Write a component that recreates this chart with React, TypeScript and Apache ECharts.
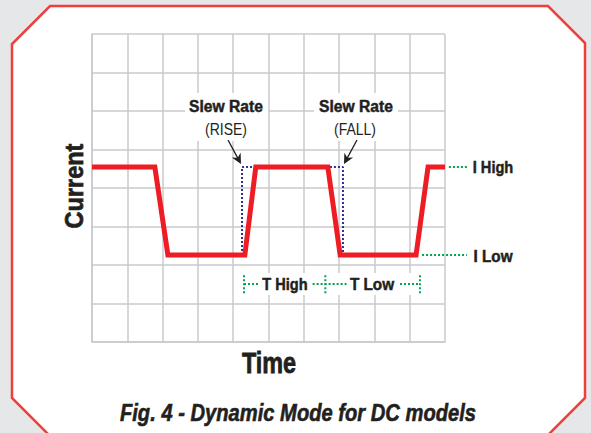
import React, { useEffect, useRef } from "react";
import * as echarts from "echarts";

// ---- data (grid units: 10 time divisions x 8 current divisions) ----
const X_MAX = 10;
const X_MAX_WIDE = 12;
const Y_MAX = 8;
const I_HIGH = 4.545;
const I_LOW = 2.26;
const waveTimes = [0, 1.78, 2.15, 4.33, 4.64, 6.68, 7.03, 9.18, 9.52, 10];
const waveLevels = [I_HIGH, I_HIGH, I_LOW, I_LOW, I_HIGH, I_HIGH, I_LOW, I_LOW, I_HIGH, I_HIGH];
const riseGuide = [[4.25, I_LOW], [4.25, I_HIGH], [4.55, I_HIGH]];
const fallGuide = [[6.74, I_HIGH], [7.11, I_HIGH], [7.11, I_LOW]];
const iHighGuide = [[10.11, I_HIGH], [10.65, I_HIGH]];
const iLowGuide = [[9.35, I_LOW], [10.62, I_LOW]];
const T_ROW = 1.506;
const T_TICK = 0.24;
const periodMarks = [4.306, 6.61, 9.29];
const periodSegs = [[4.306, 4.703], [6.25, 7.21], [8.725, 9.29]];

const TXT = "#231f20";
const FONT = "'Liberation Sans', Arial, sans-serif";
const RED = "#ee1c25";
const GREEN = "#00a651";
const BLUE = "#2e3192";

const GRID_LEFT = 92;
const GRID_TOP = 34;
const GRID_W = 353;
const GRID_H = 308;

function arrow(tail: number[], tip: number[]) {
  const dx = tip[0] - tail[0];
  const dy = tip[1] - tail[1];
  const len = Math.hypot(dx, dy);
  const ux = dx / len, uy = dy / len;
  const px = -uy, py = ux;
  const hl = 10, hw = 5;
  const bx = tip[0] - ux * hl, by = tip[1] - uy * hl;
  const nx = tip[0] - ux * (hl - 3), ny = tip[1] - uy * (hl - 3);
  return [
    {
      type: "line", z: 6,
      shape: { x1: tail[0], y1: tail[1], x2: nx, y2: ny },
      style: { stroke: TXT, lineWidth: 1.3 },
    },
    {
      type: "polygon", z: 6,
      shape: { points: [tip, [bx + px * hw, by + py * hw], [nx, ny], [bx - px * hw, by - py * hw]] },
      style: { fill: TXT },
    },
  ];
}

function txt(text: string, x: number, y: number, font: string, scaleX = 1, rotation = 0, heavy = 0) {
  const style: any = {
    text, font, fill: TXT,
    align: "center", verticalAlign: "middle",
    textAlign: "center", textVerticalAlign: "middle",
  };
  if (heavy > 0) {
    style.stroke = TXT;
    style.lineWidth = heavy;
  }
  return { type: "text", z: 6, x, y, rotation, scaleX, style };
}

function dotted(data: number[][], color: string, axis = 0) {
  return {
    type: "line", data, symbol: "none", z: 3, silent: true,
    xAxisIndex: axis, yAxisIndex: axis,
    lineStyle: { color, width: 2, type: [2, 2] },
  };
}

export default function App() {
  const ref = useRef<HTMLDivElement>(null);
  useEffect(() => {
    if (!ref.current) return;
    const chart = echarts.init(ref.current, null, { renderer: "svg" });
    const grey = "#c9cacc";
    const wave = waveTimes.map((t, i) => [t, waveLevels[i]]);
    const periodSeries: any[] = [];
    periodSegs.forEach((s) => periodSeries.push(dotted([[s[0], T_ROW], [s[1], T_ROW]], GREEN)));
    periodMarks.forEach((m) => periodSeries.push(dotted([[m, T_ROW - T_TICK], [m, T_ROW + T_TICK]], GREEN)));

    const hidden = { show: false };
    chart.setOption({
      animation: false,
      backgroundColor: "#e6e7e8",
      grid: [
        { left: GRID_LEFT, top: GRID_TOP, width: GRID_W, height: GRID_H, show: false },
        { left: GRID_LEFT, top: GRID_TOP, width: (GRID_W * X_MAX_WIDE) / X_MAX, height: GRID_H, show: false },
      ],
      xAxis: [
        {
          type: "value", min: 0, max: X_MAX, interval: 1, z: 0, gridIndex: 0,
          axisLine: { show: true, lineStyle: { color: grey, width: 1.5 } },
          axisTick: { show: false }, axisLabel: { show: false },
          splitLine: { show: true, lineStyle: { color: grey, width: 1.5 } },
        },
        { type: "value", min: 0, max: X_MAX_WIDE, gridIndex: 1, ...hidden },
      ],
      yAxis: [
        {
          type: "value", min: 0, max: Y_MAX, interval: 1, z: 0, gridIndex: 0,
          axisLine: { show: true, lineStyle: { color: grey, width: 1.5 } },
          axisTick: { show: false }, axisLabel: { show: false },
          splitLine: { show: true, lineStyle: { color: grey, width: 1.5 } },
        },
        { type: "value", min: 0, max: Y_MAX, gridIndex: 1, ...hidden },
      ],
      series: [
        {
          type: "line", data: wave, symbol: "none", z: 4, silent: true,
          lineStyle: { color: RED, width: 5, join: "miter" },
        },
        dotted(riseGuide, BLUE),
        dotted(fallGuide, BLUE),
        dotted(iHighGuide, GREEN, 1),
        dotted(iLowGuide, GREEN, 1),
        ...periodSeries,
      ],
      graphic: [
        {
          type: "polygon", z: -10,
          shape: {
            points: [[50, 6], [548, 6], [585, 43], [585, 398], [545, 438], [52, 438], [12, 398], [12, 44]],
          },
          style: { fill: "#ffffff", stroke: "#ee3f3a", lineWidth: 2.5 },
        },
        { type: "rect", z: 1, shape: { x: 185, y: 93, width: 83, height: 48 }, style: { fill: "#ffffff" } },
        { type: "rect", z: 1, shape: { x: 314, y: 93, width: 84, height: 48 }, style: { fill: "#ffffff" } },
        { type: "rect", z: 1, shape: { x: 240, y: 273, width: 186, height: 22 }, style: { fill: "#ffffff" } },
        txt("Slew Rate", 226, 106, `bold 17px ${FONT}`, 0.92, 0, 0.5),
        txt("(RISE)", 226, 129, `16px ${FONT}`, 0.875),
        txt("Slew Rate", 356, 106, `bold 17px ${FONT}`, 0.92, 0, 0.5),
        txt("(FALL)", 355, 129, `16px ${FONT}`, 0.875),
        ...arrow([228, 140], [241, 164]),
        ...arrow([357, 140], [344, 164]),
        txt("I High", 493, 167, `bold 17px ${FONT}`, 0.86, 0, 0.5),
        txt("I Low", 493, 256, `bold 17px ${FONT}`, 0.9, 0, 0.5),
        txt("T High", 285, 284, `bold 17px ${FONT}`, 0.86, 0, 0.5),
        txt("T Low", 372, 284, `bold 17px ${FONT}`, 0.9, 0, 0.5),
        txt("Current", 74, 186, `bold 25px ${FONT}`, 0.94, Math.PI / 2, 0.7),
        txt("Time", 269, 363, `bold 30px ${FONT}`, 0.78, 0, 0.8),
        txt("Fig. 4 - Dynamic Mode for DC models", 298, 413, `italic bold 24px ${FONT}`, 0.84, 0, 0.6),
      ],
    });
    return () => chart.dispose();
  }, []);
  return (
    <div
      ref={ref}
      style={{ position: "fixed", left: 0, top: 0, width: 591, height: 433 }}
    />
  );
}
